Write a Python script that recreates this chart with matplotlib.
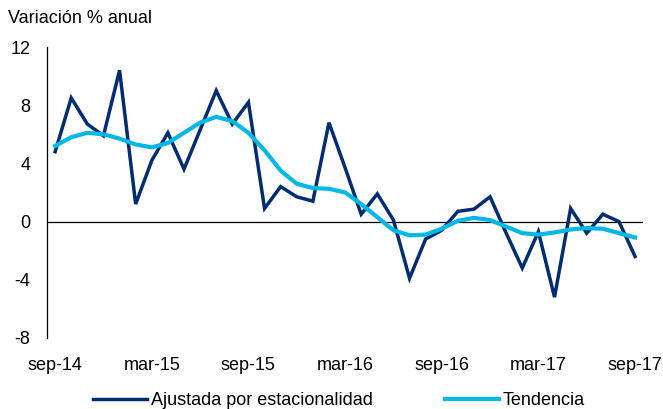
import matplotlib.pyplot as plt
from matplotlib import font_manager

# Data: monthly, sep-14 .. sep-17
meses = list(range(37))
tick_pos = [0, 6, 12, 18, 24, 30, 36]
tick_labels = ["sep-14", "mar-15", "sep-15", "mar-16", "sep-16", "mar-17", "sep-17"]

ajustada = [4.8, 8.5, 6.7, 5.9, 10.4, 1.2, 4.2, 6.1, 3.6, 6.3,
            9.0, 6.7, 8.2, 0.9, 2.4, 1.7, 1.4, 6.8, 3.7, 0.5,
            1.9, 0.1, -3.9, -1.2, -0.6, 0.7, 0.85, 1.7, -0.8, -3.2,
            -0.7, -5.2, 0.9, -0.8, 0.5, 0.0, -2.4]

tendencia = [5.2, 5.8, 6.1, 6.0, 5.7, 5.3, 5.1, 5.4, 6.1, 6.8,
             7.2, 6.9, 6.1, 4.9, 3.5, 2.6, 2.3, 2.25, 2.0, 1.2,
             0.3, -0.6, -0.95, -0.9, -0.5, 0.05, 0.25, 0.1, -0.35, -0.8,
             -0.9, -0.75, -0.55, -0.45, -0.5, -0.8, -1.1]

names = {f.name for f in font_manager.fontManager.ttflist}
fam = "Liberation Sans Narrow" if "Liberation Sans Narrow" in names else "Liberation Sans"
plt.rcParams["font.family"] = [fam, "DejaVu Sans"]

fig = plt.figure(figsize=(6.63, 4.09), dpi=100)
ax = fig.add_axes([0.071, 0.174, 0.899, 0.711])

ax.plot(meses, ajustada, color="#002d72", lw=2.5, solid_joinstyle="miter",
        label="Ajustada por estacionalidad")
ax.plot(meses, tendencia, color="#00b8e6", lw=3.0,
        label="Tendencia")
ax.axhline(0, color="black", lw=0.9, zorder=0)

ax.set_xlim(-0.5, 36.5)
ax.set_ylim(-8, 12)
ax.set_yticks([-8, -4, 0, 4, 8, 12])
ax.set_yticklabels(["-8", "-4", "0", "4", "8", "12"])
ax.set_xticks(tick_pos)
ax.set_xticklabels(tick_labels)
ax.tick_params(axis="both", length=0, labelsize=13, colors="black")
ax.tick_params(axis="x", pad=14)
ax.tick_params(axis="y", pad=12)

for s in ["top", "right", "bottom"]:
    ax.spines[s].set_visible(False)
ax.spines["left"].set_linewidth(0.9)

fig.text(0.012, 0.955, "Variación % anual", fontsize=13, va="center", ha="left")

leg = fig.legend(loc="lower center", bbox_to_anchor=(0.511, -0.04), ncol=2,
                 frameon=False, fontsize=13, handlelength=3.0, columnspacing=4.0,
                 handletextpad=0.2)

fig.savefig("out.png", dpi=100)
